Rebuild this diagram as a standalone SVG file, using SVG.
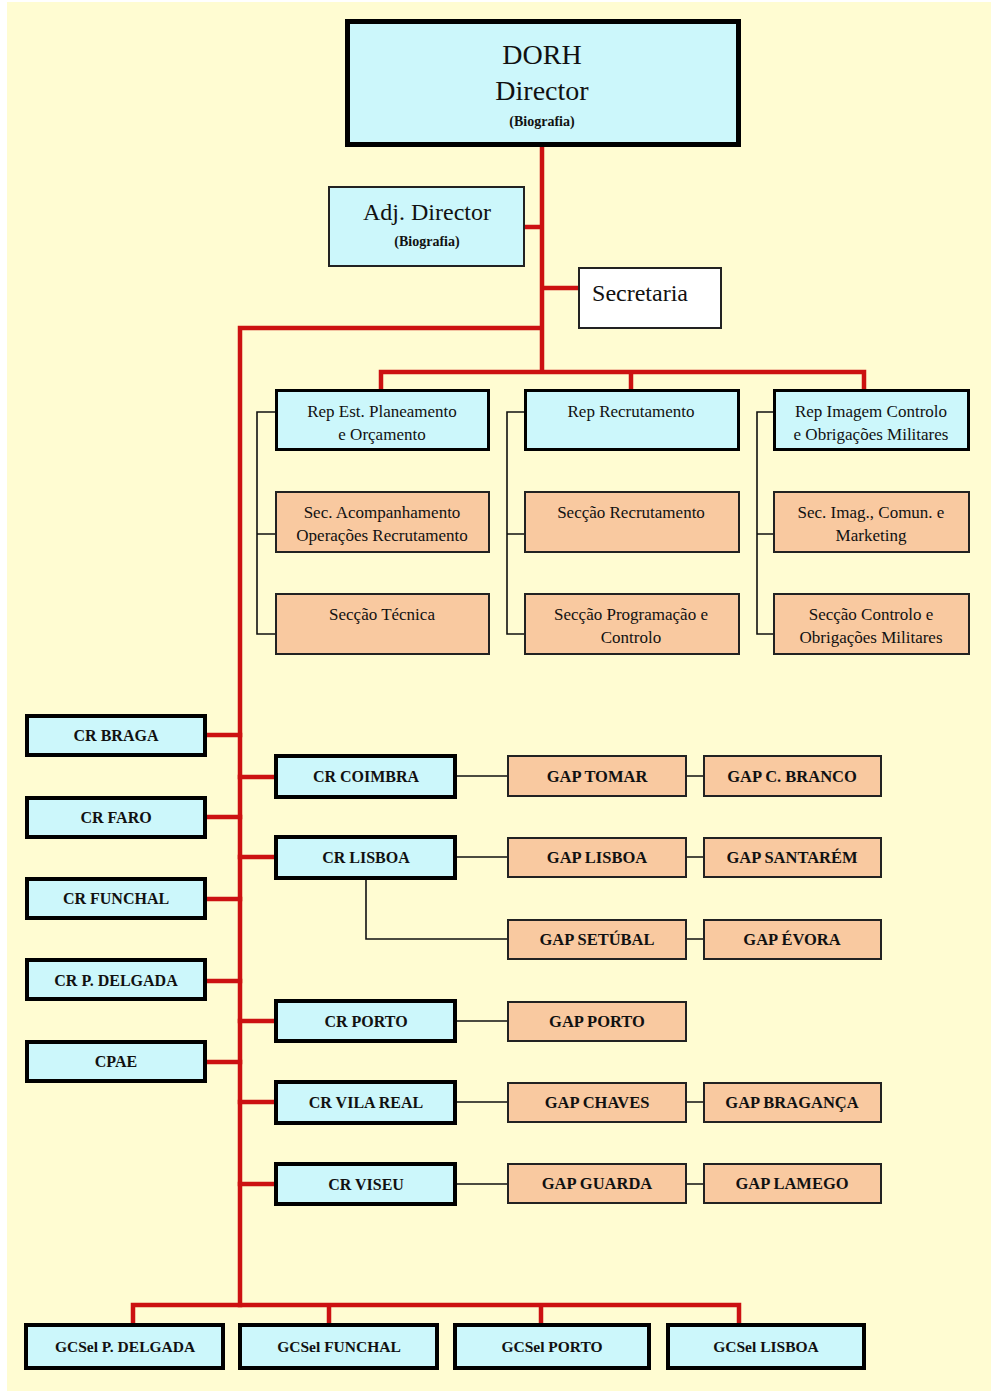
<svg xmlns="http://www.w3.org/2000/svg" width="997" height="1397" viewBox="0 0 997 1397">
<style>
text{font-family:"Liberation Serif","Times New Roman",serif;text-anchor:middle;fill:#111}
.cy{fill:#CCF7FB}
.or{fill:#F9C9A0}
.k5{stroke:#000;stroke-width:5}
.k4{stroke:#000;stroke-width:4}
.k3{stroke:#000;stroke-width:3}
.k2{stroke:#222;stroke-width:2}
.red{stroke:#CC1111;stroke-width:4.5;fill:none;stroke-linecap:square}
.blk{stroke:#111;stroke-width:1.6;fill:none}
.cr{font-weight:bold;font-size:16px}
.gap{font-weight:bold;font-size:16.5px}
.rep{font-size:17px}
.gcs{font-weight:bold;font-size:15.5px}
</style>
<rect x="0" y="0" width="997" height="1397" fill="#FFFFFF"/>
<rect x="7" y="2" width="984" height="1389" fill="#FFFCD2"/>

<g id="connectors">
  <path class="red" d="M542,147 V372 M524,227 H542 M542,288 H578 M240,328 H542 M240,328 V1305 M381,372 H864 M381,372 V389 M631,372 V389 M864,372 V389"/>
  <path class="red" d="M207,735 H240 M207,817 H240 M207,899 H240 M207,981 H240 M207,1062 H240"/>
  <path class="red" d="M240,777 H274 M240,857 H274 M240,1021 H274 M240,1102 H274 M240,1184 H274"/>
  <path class="red" d="M133,1305 H739 M133,1305 V1323 M329,1305 V1323 M541,1305 V1323 M739,1305 V1323"/>
  <path class="blk" d="M276,412 H257 V634 H276 M257,534 H276"/>
  <path class="blk" d="M525,412 H507 V634 H525 M507,534 H525"/>
  <path class="blk" d="M774,412 H757 V634 H774 M757,534 H774"/>
  <path class="blk" d="M457,776 H507 M687,776 H703 M457,857 H507 M687,857 H703 M366,880 V939 H507 M687,939 H703 M457,1021 H507 M457,1102 H507 M687,1102 H703 M457,1184 H507 M687,1184 H703"/>
</g>

<g id="dorh">
  <rect class="cy k5" x="347.5" y="21.5" width="391" height="123"/>
  <text x="542" y="64" font-size="28">DORH</text>
  <text x="542" y="100" font-size="28">Director</text>
  <text x="542" y="126" font-size="14" font-weight="bold">(Biografia)</text>
</g>
<g id="adj">
  <rect class="cy k2" x="329" y="187" width="195" height="79"/>
  <text x="427" y="220" font-size="24">Adj. Director</text>
  <text x="427" y="246" font-size="14" font-weight="bold">(Biografia)</text>
</g>
<g id="secretaria">
  <rect class="k2" fill="#FFFFFF" x="579" y="268" width="142" height="60"/>
  <text x="640" y="301" font-size="24">Secretaria</text>
</g>

<g id="rep1">
  <rect class="cy k3" x="276.5" y="390.5" width="212" height="59"/>
  <text class="rep" x="382" y="417">Rep Est. Planeamento</text>
  <text class="rep" x="382" y="440">e Orçamento</text>
</g>
<g id="rep2">
  <rect class="cy k3" x="525.5" y="390.5" width="213" height="59"/>
  <text class="rep" x="631" y="417">Rep Recrutamento</text>
</g>
<g id="rep3">
  <rect class="cy k3" x="774.5" y="390.5" width="194" height="59"/>
  <text class="rep" x="871" y="417">Rep Imagem Controlo</text>
  <text class="rep" x="871" y="440">e Obrigações Militares</text>
</g>

<g id="sec1a">
  <rect class="or k2" x="276" y="492" width="213" height="60"/>
  <text class="rep" x="382" y="518">Sec. Acompanhamento</text>
  <text class="rep" x="382" y="541">Operações Recrutamento</text>
</g>
<g id="sec1b">
  <rect class="or k2" x="276" y="594" width="213" height="60"/>
  <text class="rep" x="382" y="620">Secção Técnica</text>
</g>
<g id="sec2a">
  <rect class="or k2" x="525" y="492" width="214" height="60"/>
  <text class="rep" x="631" y="518">Secção Recrutamento</text>
</g>
<g id="sec2b">
  <rect class="or k2" x="525" y="594" width="214" height="60"/>
  <text class="rep" x="631" y="620">Secção Programação e</text>
  <text class="rep" x="631" y="643">Controlo</text>
</g>
<g id="sec3a">
  <rect class="or k2" x="774" y="492" width="195" height="60"/>
  <text class="rep" x="871" y="518">Sec. Imag., Comun. e</text>
  <text class="rep" x="871" y="541">Marketing</text>
</g>
<g id="sec3b">
  <rect class="or k2" x="774" y="594" width="195" height="60"/>
  <text class="rep" x="871" y="620">Secção Controlo e</text>
  <text class="rep" x="871" y="643">Obrigações Militares</text>
</g>

<g id="cr-braga"><rect class="cy k4" x="27" y="716" width="178" height="39"/><text class="cr" x="116" y="741">CR BRAGA</text></g>
<g id="cr-faro"><rect class="cy k4" x="27" y="798" width="178" height="39"/><text class="cr" x="116" y="823">CR FARO</text></g>
<g id="cr-funchal"><rect class="cy k4" x="27" y="879" width="178" height="39"/><text class="cr" x="116" y="904">CR FUNCHAL</text></g>
<g id="cr-pdelgada"><rect class="cy k4" x="27" y="960" width="178" height="39"/><text class="cr" x="116" y="986">CR P. DELGADA</text></g>
<g id="cpae"><rect class="cy k4" x="27" y="1042" width="178" height="39"/><text class="cr" x="116" y="1067">CPAE</text></g>

<g id="cr-coimbra"><rect class="cy k4" x="276" y="756" width="179" height="41"/><text class="cr" x="366" y="782">CR COIMBRA</text></g>
<g id="cr-lisboa"><rect class="cy k4" x="276" y="837" width="179" height="41"/><text class="cr" x="366" y="863">CR LISBOA</text></g>
<g id="cr-porto"><rect class="cy k4" x="276" y="1001" width="179" height="40"/><text class="cr" x="366" y="1027">CR PORTO</text></g>
<g id="cr-vilareal"><rect class="cy k4" x="276" y="1082" width="179" height="41"/><text class="cr" x="366" y="1108">CR VILA REAL</text></g>
<g id="cr-viseu"><rect class="cy k4" x="276" y="1164" width="179" height="40"/><text class="cr" x="366" y="1190">CR VISEU</text></g>

<g id="gap-tomar"><rect class="or k2" x="508" y="756" width="178" height="40"/><text class="gap" x="597" y="782">GAP TOMAR</text></g>
<g id="gap-cbranco"><rect class="or k2" x="704" y="756" width="177" height="40"/><text class="gap" x="792" y="782">GAP C. BRANCO</text></g>
<g id="gap-lisboa"><rect class="or k2" x="508" y="838" width="178" height="39"/><text class="gap" x="597" y="863">GAP LISBOA</text></g>
<g id="gap-santarem"><rect class="or k2" x="704" y="838" width="177" height="39"/><text class="gap" x="792" y="863">GAP SANTARÉM</text></g>
<g id="gap-setubal"><rect class="or k2" x="508" y="920" width="178" height="39"/><text class="gap" x="597" y="945">GAP SETÚBAL</text></g>
<g id="gap-evora"><rect class="or k2" x="704" y="920" width="177" height="39"/><text class="gap" x="792" y="945">GAP ÉVORA</text></g>
<g id="gap-porto"><rect class="or k2" x="508" y="1002" width="178" height="39"/><text class="gap" x="597" y="1027">GAP PORTO</text></g>
<g id="gap-chaves"><rect class="or k2" x="508" y="1083" width="178" height="39"/><text class="gap" x="597" y="1108">GAP CHAVES</text></g>
<g id="gap-braganca"><rect class="or k2" x="704" y="1083" width="177" height="39"/><text class="gap" x="792" y="1108">GAP BRAGANÇA</text></g>
<g id="gap-guarda"><rect class="or k2" x="508" y="1164" width="178" height="39"/><text class="gap" x="597" y="1189">GAP GUARDA</text></g>
<g id="gap-lamego"><rect class="or k2" x="704" y="1164" width="177" height="39"/><text class="gap" x="792" y="1189">GAP LAMEGO</text></g>

<g id="gcs-pdelgada"><rect class="cy k4" x="26" y="1325" width="197" height="43"/><text class="gcs" x="125" y="1352">GCSel P. DELGADA</text></g>
<g id="gcs-funchal"><rect class="cy k4" x="240" y="1325" width="197" height="43"/><text class="gcs" x="339" y="1352">GCSel FUNCHAL</text></g>
<g id="gcs-porto"><rect class="cy k4" x="455" y="1325" width="194" height="43"/><text class="gcs" x="552" y="1352">GCSel PORTO</text></g>
<g id="gcs-lisboa"><rect class="cy k4" x="668" y="1325" width="196" height="43"/><text class="gcs" x="766" y="1352">GCSel LISBOA</text></g>
</svg>
